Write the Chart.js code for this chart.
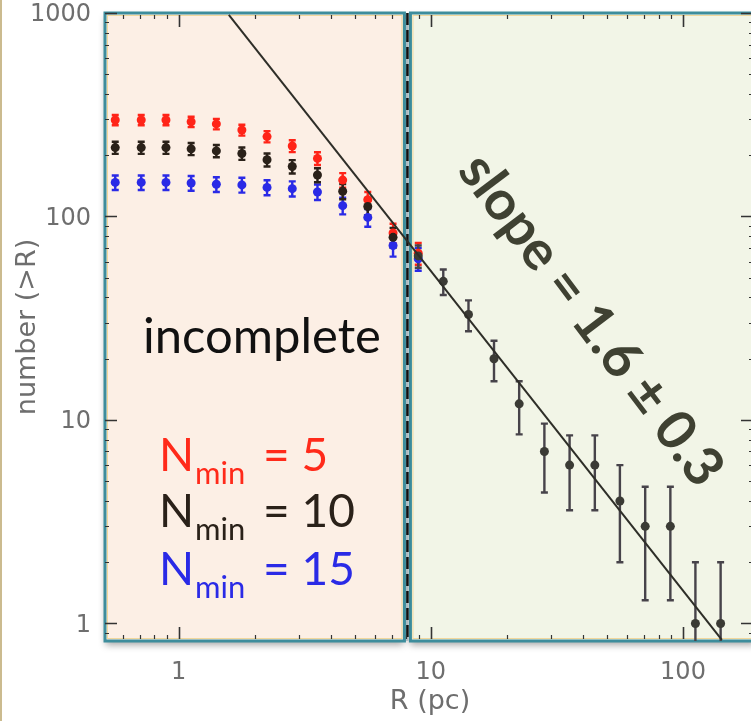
<!DOCTYPE html>
<html>
<head>
<meta charset="utf-8">
<script src="https://cdn.jsdelivr.net/npm/chart.js@4.4.1/dist/chart.umd.min.js"></script>
<style>
  html, body { margin: 0; padding: 0; background: #fff; overflow: hidden; }
  #wrap { position: relative; width: 760px; height: 721px; }
</style>
</head>
<body>
<div id="wrap"><canvas id="chartCounts"></canvas></div>
<script>
/* =========================================================
   DATA
========================================================= */
const radiusPc = [0.56, 0.71, 0.89, 1.12, 1.41, 1.78, 2.24, 2.82, 3.55, 4.47, 5.62, 7.08,
                  8.91, 11.2, 14.1, 17.8, 22.4, 28.2, 35.5, 44.7, 56.2, 70.8, 89.1, 112, 141];
const countsN5  = [298, 298, 298, 292, 285, 266, 247, 222, 193, 151, 121, 83, 66];
const errN5     = [17.3, 17.3, 17.3, 17.1, 16.9, 16.3, 15.7, 14.9, 13.9, 12.3, 11.0, 9.1, 8.1];
const countsN10 = [218, 218, 218, 215, 210, 204, 190, 176, 160, 133, 112, 79,
                   64, 48, 33, 20, 12, 7, 6, 6, 4, 3, 3, 1, 1];
const errN10    = [14.8, 14.8, 14.8, 14.7, 14.5, 14.3, 13.8, 13.3, 12.6, 11.5, 10.6, 8.9,
                   8.0, 6.9, 5.7, 4.5, 3.5, 2.6, 2.4, 2.4, 2.0, 1.7, 1.7, 1.0, 1.0];
const countsN15 = [147, 147, 147, 146, 144, 143, 139, 137, 132, 113, 99, 72, 62];
const errN15    = [12.1, 12.1, 12.1, 12.1, 12.0, 12.0, 11.8, 11.7, 11.5, 10.6, 9.9, 8.5, 7.9];
const fitR = [1.58, 142.6];
const fitN = [978, 0.83];
const completenessR = 8;
const xTicks = [1, 10, 100];
const yTicks = [1, 10, 100, 1000];

const RED = '#ff2418', BLUE = '#2a2ae6', BLACK = '#2a2119', GREY = '#3b3b35';

function points(counts) {
    return counts.map((n, i) => ({ x: radiusPc[i], y: n }));
}

/* =========================================================
   PLUGINS
========================================================= */
function panel(ctx, x0, x1, top, bottom, fill) {
    ctx.save();
    ctx.shadowColor = 'rgba(0,0,0,0.35)';
    ctx.shadowBlur = 7;
    ctx.shadowOffsetY = 4;
    ctx.fillStyle = fill;
    ctx.fillRect(x0, top, x1 - x0, bottom - top);
    ctx.restore();
    ctx.save();
    ctx.strokeStyle = '#f1d79c';
    ctx.lineWidth = 1;
    ctx.strokeRect(x0 + 2.5, top + 2.5, x1 - x0 - 5, bottom - top - 5);
    ctx.strokeStyle = '#3d8d9c';
    ctx.lineWidth = 3;
    ctx.strokeRect(x0, top, x1 - x0, bottom - top);
    ctx.restore();
}

const backgroundPlugin = {
    id: 'panels',
    beforeDraw(chart) {
        const { ctx, chartArea: a, scales: { x } } = chart;
        const xc = x.getPixelForValue(completenessR);
        ctx.save();
        ctx.fillStyle = '#fff';
        ctx.fillRect(0, 0, chart.width, chart.height);
        ctx.fillStyle = '#cbbb8f';
        ctx.fillRect(0, 0, 2, chart.height);
        ctx.fillStyle = '#c9d8de';
        ctx.fillRect(xc - 2, a.top, 4, a.bottom - a.top);
        ctx.restore();
        panel(ctx, xc + 4, a.right, a.top, a.bottom, '#f2f5e7');
        panel(ctx, a.left, xc - 2, a.top, a.bottom, '#fcefe5');
        // completeness limit
        ctx.save();
        ctx.strokeStyle = '#111';
        ctx.lineWidth = 2.5;
        ctx.setLineDash([12, 5]);
        ctx.beginPath();
        ctx.moveTo(xc + 1, a.top);
        ctx.lineTo(xc + 1, a.bottom);
        ctx.stroke();
        ctx.restore();
    }
};

const ticksPlugin = {
    id: 'insideTicks',
    beforeDatasetsDraw(chart) {
        const { ctx, chartArea: a, scales: { x, y } } = chart;
        ctx.save();
        ctx.strokeStyle = '#333';
        for (let dec = 0.1; dec <= 1000; dec *= 10) {
            for (let m = 1; m <= 9; m++) {
                const v = dec * m;
                const major = m === 1;
                const len = major ? 12 : 4;
                ctx.lineWidth = major ? 1.6 : 1.2;
                if (v >= x.min && v <= x.max) {
                    const px = Math.round(x.getPixelForValue(v)) + 0.5;
                    ctx.beginPath();
                    ctx.moveTo(px, a.bottom - 2); ctx.lineTo(px, a.bottom - 2 - len);
                    ctx.moveTo(px, a.top + 2); ctx.lineTo(px, a.top + 2 + len);
                    ctx.stroke();
                }
                if (v >= y.min && v <= y.max) {
                    const py = Math.round(y.getPixelForValue(v)) + 0.5;
                    ctx.beginPath();
                    ctx.moveTo(a.left, py); ctx.lineTo(a.left + len, py);
                    ctx.moveTo(a.right - 2, py); ctx.lineTo(a.right - 2 - len, py);
                    ctx.stroke();
                }
            }
        }
        ctx.restore();
    }
};

const errorBarPlugin = {
    id: 'errorBars',
    beforeDatasetsDraw(chart) {
        const { ctx, chartArea: a, scales: { x, y } } = chart;
        ctx.save();
        ctx.lineWidth = 2.4;
        for (let d = chart.data.datasets.length - 1; d >= 0; d--) {
            const ds = chart.data.datasets[d];
            if (!ds.err) continue;
            ds.data.forEach((p, i) => {
                const px = x.getPixelForValue(p.x);
                const hi = y.getPixelForValue(p.y + ds.err[i]);
                const low = p.y - ds.err[i];
                const lo = low > 0 ? Math.min(y.getPixelForValue(low), a.bottom) : a.bottom;
                ctx.strokeStyle = ds.barColor(p.x);
                ctx.beginPath();
                ctx.moveTo(px, hi); ctx.lineTo(px, lo);
                ctx.moveTo(px - 3.5, hi); ctx.lineTo(px + 3.5, hi);
                if (lo < a.bottom - 1) { ctx.moveTo(px - 3.5, lo); ctx.lineTo(px + 3.5, lo); }
                ctx.stroke();
            });
        }
        ctx.restore();
    }
};

function fitFont(ctx, text, weight, family, width) {
    ctx.font = `${weight} 100px ${family}`;
    return 100 * width / ctx.measureText(text).width;
}

function nmin(ctx, x, base, rest, color) {
    ctx.fillStyle = color;
    ctx.font = '46px Lato';
    ctx.fillText('N', x, base);
    ctx.font = '31px Lato';
    ctx.fillText('min', x + 36, base + 13);
    ctx.font = '46px Lato';
    ctx.fillText(rest, x + 104, base);
}

const labelPlugin = {
    id: 'labels',
    afterDraw(chart) {
        const ctx = chart.ctx;
        ctx.save();
        ctx.textAlign = 'left';
        ctx.textBaseline = 'alphabetic';
        let size = fitFont(ctx, 'incomplete', 'normal', 'Lato', 238);
        ctx.font = `${size}px Lato`;
        ctx.fillStyle = '#111';
        ctx.fillText('incomplete', 143, 353);

        nmin(ctx, 159, 471, '= 5', '#ff2a1a');
        nmin(ctx, 159, 527, '= 10', '#2a2119');
        nmin(ctx, 159, 585, '= 15', '#2a2ae6');

        const slope = 'slope = 1.6 \u00b1 0.3';
        size = fitFont(ctx, slope, 'bold', 'Lato', 400);
        ctx.translate(591, 320);
        ctx.rotate(53 * Math.PI / 180);
        ctx.font = `bold ${size}px Lato`;
        ctx.textAlign = 'center';
        ctx.textBaseline = 'middle';
        ctx.fillStyle = '#3f4132';
        ctx.fillText(slope, 0, 0);
        ctx.restore();
    }
};

/* =========================================================
   CHART
========================================================= */
const tickFont = { family: 'DejaVu Sans', size: 24 };
const titleFont = { family: 'DejaVu Sans', size: 27 };

new Chart(document.getElementById('chartCounts'), {
    type: 'scatter',
    data: {
        datasets: [
            {
                label: 'fit',
                data: fitR.map((r, i) => ({ x: r, y: fitN[i] })),
                showLine: true,
                borderColor: '#2e2e28',
                borderWidth: 2,
                pointRadius: 0
            },
            {
                label: 'Nmin = 10',
                data: points(countsN10),
                err: errN10,
                barColor: r => (r > completenessR ? '#47434a' : BLACK),
                backgroundColor: c => (c.raw && c.raw.x > completenessR ? GREY : BLACK),
                borderWidth: 0,
                pointRadius: 4.5
            },
            {
                label: 'Nmin = 15',
                data: points(countsN15),
                err: errN15,
                barColor: () => BLUE,
                backgroundColor: BLUE,
                borderWidth: 0,
                pointRadius: 4.5
            },
            {
                label: 'Nmin = 5',
                data: points(countsN5),
                err: errN5,
                barColor: () => RED,
                backgroundColor: RED,
                borderWidth: 0,
                pointRadius: 4.5
            }
        ]
    },
    options: {
        responsive: true,
        maintainAspectRatio: false,
        animation: false,
        layout: { padding: { top: 13, right: 5, left: 0, bottom: 0 } },
        plugins: { legend: { display: false }, tooltip: { enabled: false } },
        scales: {
            x: {
                type: 'logarithmic',
                min: 0.51,
                max: 193,
                grid: { display: false, drawTicks: false },
                border: { display: false },
                afterBuildTicks: s => { s.ticks = xTicks.map(v => ({ value: v })); },
                afterFit: s => { s.height = 80; s.paddingLeft = 0; s.paddingRight = 0; },
                ticks: {
                    callback: v => String(v),
                    font: tickFont,
                    color: '#6e6e6e',
                    padding: 17,
                    maxRotation: 0,
                    autoSkip: false
                },
                title: {
                    display: true,
                    text: 'R (pc)',
                    font: titleFont,
                    color: '#6e6e6e',
                    padding: { top: 0, bottom: 3 }
                }
            },
            y: {
                type: 'logarithmic',
                min: 0.82,
                max: 1000,
                grid: { display: false, drawTicks: false },
                border: { display: false },
                afterBuildTicks: s => { s.ticks = yTicks.map(v => ({ value: v })); },
                afterFit: s => { s.width = 105; s.paddingTop = 0; s.paddingBottom = 0; },
                ticks: {
                    callback: v => String(v),
                    font: tickFont,
                    color: '#6e6e6e',
                    padding: 14,
                    labelOffset: 2,
                    autoSkip: false
                },
                title: {
                    display: true,
                    text: 'number (>R)',
                    font: titleFont,
                    color: '#6e6e6e',
                    padding: { top: 12, bottom: 0 }
                }
            }
        }
    },
    plugins: [backgroundPlugin, ticksPlugin, errorBarPlugin, labelPlugin]
});
</script>
</body>
</html>
